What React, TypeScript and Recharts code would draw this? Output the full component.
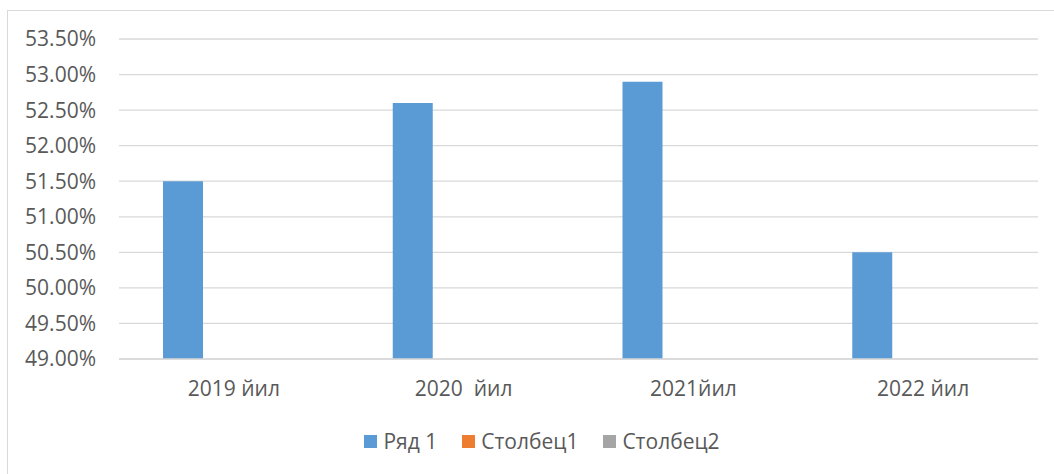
import React from 'react';
import { BarChart, Bar, XAxis, YAxis, CartesianGrid } from 'recharts';

const categories = ['2019 йил', '2020  йил', '2021йил', '2022 йил'];
const ryad1 = [0.515, 0.526, 0.529, 0.505];
const stolbets1: (number | null)[] = [null, null, null, null];
const stolbets2: (number | null)[] = [null, null, null, null];
const yTicks = [0.49, 0.495, 0.5, 0.505, 0.51, 0.515, 0.52, 0.525, 0.53, 0.535];

const seriesNames = ['Ряд 1', 'Столбец1', 'Столбец2'];
const seriesColors = ['#5B9BD5', '#ED7D31', '#A5A5A5'];

const data = categories.map((c, i) => ({
  name: c,
  s0: ryad1[i],
  s1: stolbets1[i],
  s2: stolbets2[i],
}));

const FONT = '"Open Sans", sans-serif';
const TEXT = '#595959';
const FS = 21;

const XTick = (props: any) => {
  const { x, y, payload } = props;
  return (
    <text
      x={x}
      y={y}
      dy="0.71em"
      textAnchor="middle"
      fill={TEXT}
      fontSize={FS}
      fontFamily={FONT}
      xmlSpace="preserve"
      style={{ whiteSpace: 'pre' }}
    >
      {payload.value}
    </text>
  );
};

export default function App() {
  return (
    <div style={{ position: 'absolute', left: 0, top: 0, width: 1054, height: 474, overflow: 'hidden', background: '#fff' }}>
      <div style={{ position: 'absolute', left: 7, top: 10, width: 1100, height: 520, border: '1px solid #D9D9D9' }} />
      <div style={{ position: 'absolute', left: 0, top: 0 }}>
        <BarChart
          width={1054}
          height={474}
          data={data}
          margin={{ top: 39, right: 16, bottom: 85, left: 0 }}
          barSize={40}
          barGap={11}
        >
          <CartesianGrid vertical={false} stroke="#D9D9D9" strokeWidth={1.3} />
          <XAxis
            dataKey="name"
            height={30}
            axisLine={{ stroke: '#D9D9D9', strokeWidth: 1.3 }}
            tickLine={false}
            tickSize={0}
            tickMargin={22}
            interval={0}
            tick={<XTick />}
          />
          <YAxis
            width={119}
            domain={[0.49, 0.535]}
            ticks={yTicks}
            allowDataOverflow
            axisLine={false}
            tickLine={false}
            tickSize={0}
            tickMargin={23}
            tickFormatter={(v: number) => (v * 100).toFixed(2) + '%'}
            tick={{ fill: TEXT, fontSize: FS, fontFamily: FONT }}
          />
          <Bar dataKey="s0" name={seriesNames[0]} fill={seriesColors[0]} isAnimationActive={false} />
          <Bar dataKey="s1" name={seriesNames[1]} fill={seriesColors[1]} isAnimationActive={false} />
          <Bar dataKey="s2" name={seriesNames[2]} fill={seriesColors[2]} isAnimationActive={false} />
        </BarChart>
      </div>
      <div
        style={{
          position: 'absolute', left: 30, top: 426, width: 1024, height: 30,
          display: 'flex', justifyContent: 'center', alignItems: 'center',
          fontFamily: FONT, fontSize: FS, color: TEXT,
        }}
      >
        {seriesNames.map((n, i) => (
          <div key={n} style={{ display: 'flex', alignItems: 'center', marginRight: i < 2 ? 25 : 0 }}>
            <span style={{ display: 'inline-block', width: 13, height: 13, background: seriesColors[i], marginRight: 6 }} />
            <span>{n}</span>
          </div>
        ))}
      </div>
    </div>
  );
}
